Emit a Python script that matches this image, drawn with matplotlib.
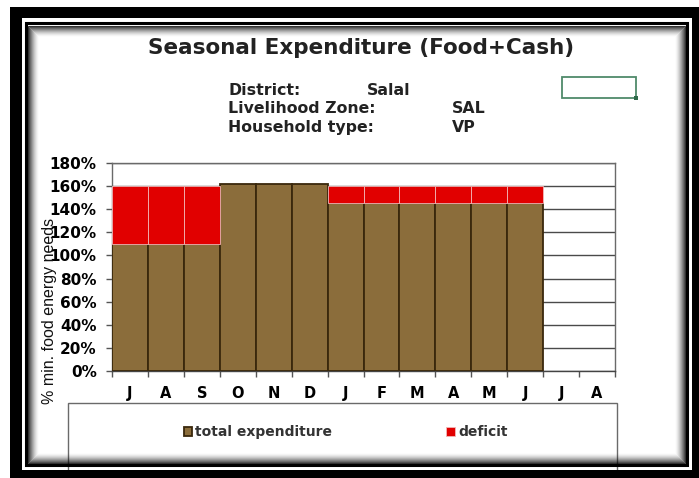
import matplotlib
matplotlib.use('Agg')
import matplotlib.pyplot as plt
import numpy as np
from matplotlib.patches import Rectangle

plt.rcParams['font.family'] = ['DejaVu Sans']

# data
months = ['J', 'A', 'S', 'O', 'N', 'D', 'J', 'F', 'M', 'A', 'M', 'J', 'J', 'A']
total_exp = [110, 110, 110, 162, 162, 162, 145, 145, 145, 145, 145, 145, 0, 0]
deficit = [50, 50, 50, 0, 0, 0, 15, 15, 15, 15, 15, 15, 0, 0]
yticks = [0, 20, 40, 60, 80, 100, 120, 140, 160, 180]

W, H = 699, 478
fig = plt.figure(figsize=(W / 100, H / 100), dpi=100)
fig.patch.set_facecolor('white')

# main plot area (pixel positions from the reference)
x0, x1, y0, y1 = 112, 615, 163, 371
ax = fig.add_axes([x0 / W, 1 - y1 / H, (x1 - x0) / W, (y1 - y0) / H])

x = np.arange(len(months))
brown = '#8b6d3b'
red = '#e10000'
# no outline on empty bars
lw_tot = [1.3 if v > 0 else 0 for v in total_exp]
lw_def = [0.6 if v > 0 else 0 for v in deficit]
b1 = ax.bar(x, total_exp, width=1.0, color=brown, edgecolor='#3a280c',
            linewidth=lw_tot, zorder=3, label='total expenditure')
b2 = ax.bar(x, deficit, width=1.0, bottom=total_exp, color=red,
            edgecolor='#f2b8b8', linewidth=lw_def, zorder=3, label='deficit')

ax.set_xlim(-0.5, len(months) - 0.5)
ax.set_ylim(0, 180)
ax.set_yticks(yticks)
ax.set_yticklabels([f'{v}%' for v in yticks], fontsize=11, fontweight='bold')
ax.yaxis.grid(True, color='#4a4a4a', linewidth=1.0, zorder=0)
ax.set_axisbelow(True)

# ticks at category boundaries, labels at centres
ax.set_xticks(np.arange(-0.5, len(months), 1.0))
ax.set_xticklabels([])
ax.set_xticks(x, minor=True)
ax.set_xticklabels(months, minor=True, fontsize=10.5, fontweight='bold')
ax.tick_params(axis='x', which='major', length=4, color='#555555', width=1)
ax.tick_params(axis='x', which='minor', length=0, pad=11)
ax.tick_params(axis='y', length=4, color='#555555', width=1, pad=7)
for s in ax.spines.values():
    s.set_color('#6a6a6a')
    s.set_linewidth(1.0)
ax.spines['bottom'].set_color('#444444')

# layers in pixel coords: one under the plot, one over it
ov = fig.add_axes([0, 0, 1, 1], zorder=-1)
ov.set_xlim(0, W)
ov.set_ylim(H, 0)
ov.axis('off')

top = fig.add_axes([0, 0, 1, 1], zorder=10)
top.set_xlim(0, W)
top.set_ylim(H, 0)
top.axis('off')
top.patch.set_alpha(0)

# legend box
ov.add_patch(Rectangle((68, 403), 617 - 68, 70, facecolor='white',
                       edgecolor='#6a6a6a', linewidth=1.0))
fig.legend(handles=[b1, b2], labels=['total expenditure', 'deficit'],
           loc='center left', bbox_to_anchor=(178 / W, 1 - 432 / H),
           ncol=2, frameon=False, prop={'weight': 'bold', 'size': 10},
           handlelength=0.6, handleheight=0.6, handletextpad=0.25,
           columnspacing=8.2, borderaxespad=0, labelcolor='#333333')

# title and info block
top.text(361, 48, 'Seasonal Expenditure (Food+Cash)', ha='center', va='center',
         fontsize=15.5, fontweight='bold', color='#222222')
info = [('District:', 'Salal', 367, 90),
        ('Livelihood Zone:', 'SAL', 452, 108),
        ('Household type:', 'VP', 452, 127)]
for lab, val, vx, yy in info:
    top.text(228, yy, lab, ha='left', va='center', fontsize=11.3,
             fontweight='bold', color='#222222')
    top.text(vx, yy, val, ha='left', va='center', fontsize=11.3,
             fontweight='bold', color='#222222')

# empty green cell box
top.add_patch(Rectangle((562, 77), 74, 21, facecolor='none',
                        edgecolor='#4f8a6a', linewidth=1.3))
top.add_patch(Rectangle((634, 96), 4, 4, facecolor='#2f6a4a', edgecolor='none'))

# y axis title
top.text(50, 311, '% min. food energy needs', rotation=90, ha='center',
         va='center', fontsize=11.5, color='#111111', family='Liberation Sans')

# picture frame: outer black band, white gap, thin black line, inner shadow
for (rx, ry, rw, rh) in [(10, 7, W - 10, 11), (10, 7, 12, H - 7),
                         (10, 470, W - 10, 8), (692, 7, 7, H - 7)]:
    top.add_patch(Rectangle((rx, ry), rw, rh, facecolor='black', edgecolor='none'))
top.add_patch(Rectangle((25.5, 23), 686.5 - 25.5, 465 - 23, facecolor='none',
                        edgecolor='black', linewidth=2.2))
for i in range(11):
    a = 0.8 * (1 - i / 11) ** 1.7
    l, t, r, b = 27.5 + i, 25.5 + i, 684.5 - i, 462.5 - i
    top.add_patch(Rectangle((l, t), r - l, b - t, facecolor='none',
                            edgecolor=(0, 0, 0, a), linewidth=0.75))

fig.savefig('out.png', dpi=100)
